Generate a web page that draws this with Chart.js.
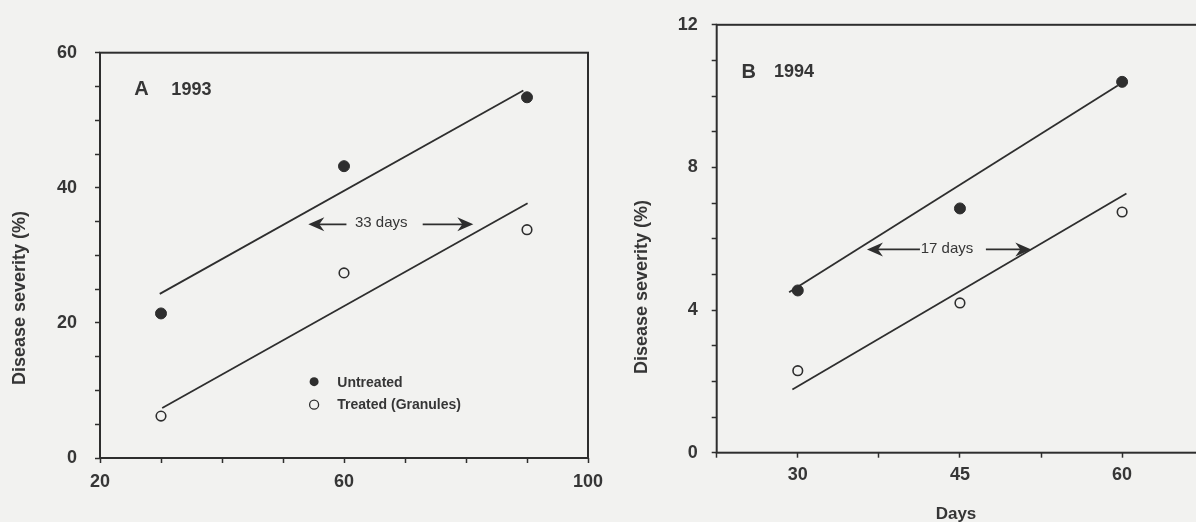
<!DOCTYPE html>
<html>
<head>
<meta charset="utf-8">
<script src="https://cdn.jsdelivr.net/npm/chart.js@4.4.1/dist/chart.umd.min.js"></script>
<style>
  html, body { margin: 0; padding: 0; width: 1196px; height: 522px; overflow: hidden; background: #f2f2f0; }
  .panel { position: absolute; top: 0; width: 620px; height: 522px; }
  #wrapA { left: 0; }
  #wrapB { left: 600px; }
</style>
</head>
<body>
<div class="panel" id="wrapA"><canvas id="chartA"></canvas></div>
<div class="panel" id="wrapB"><canvas id="chartB"></canvas></div>
<script>
// Panel A - 1993
const daysA = [30, 60, 90];
const untreatedA = [21.4, 43.2, 53.4];
const treatedA = [6.2, 27.4, 33.8];
const fitUntreatedA = [[29.8, 24.3], [89.4, 54.4]];
const fitTreatedA = [[30.2, 7.4], [90.1, 37.7]];
const xTicksA = [20, 60, 100];
const yTicksA = [0, 20, 40, 60];

// Panel B - 1994
const daysB = [30, 45, 60];
const untreatedB = [4.55, 6.85, 10.4];
const treatedB = [2.3, 4.2, 6.75];
const fitUntreatedB = [[29.2, 4.5], [59.6, 10.3]];
const fitTreatedB = [[29.5, 1.77], [60.4, 7.27]];
const xTicksB = [30, 45, 60];
const yTicksB = [0, 4, 8, 12];

// delay arrows (data coords): y, left tip, left line end, text x, right line start, right tip
const arrowA = { y: 34.6, tipL: 54.15, endL: 60.4, textX: 66.1, startR: 72.9, tipR: 81.2, text: '33 days' };
const arrowB = { y: 5.7, tipL: 36.4, endL: 41.3, textX: 43.8, startR: 47.4, tipR: 51.6, text: '17 days' };

const INK = '#2e2e2e';
const TEXT = '#363636';
const BG = '#f2f2f0';
const FONT = '"Liberation Sans", Arial, sans-serif';

function pts(xs, ys) {
  return xs.map((x, i) => ({ x: x, y: ys[i] }));
}
function seg(s) {
  return s.map(p => ({ x: p[0], y: p[1] }));
}

function datasets(days, untreated, treated, fitU, fitT) {
  return [
    {
      label: 'Untreated',
      data: pts(days, untreated),
      pointRadius: 5.5,
      pointBackgroundColor: INK,
      pointBorderColor: INK,
      pointBorderWidth: 1
    },
    {
      label: 'Treated (Granules)',
      data: pts(days, treated),
      pointRadius: 4.8,
      pointBackgroundColor: BG,
      pointBorderColor: INK,
      pointBorderWidth: 1.6
    },
    {
      label: 'fit untreated',
      data: seg(fitU),
      showLine: true,
      pointRadius: 0,
      borderColor: INK,
      borderWidth: 1.8
    },
    {
      label: 'fit treated',
      data: seg(fitT),
      showLine: true,
      pointRadius: 0,
      borderColor: INK,
      borderWidth: 1.8
    }
  ];
}

function drawArrowHead(ctx, tipX, y, dir) {
  // dir = -1 points left, 1 points right
  ctx.beginPath();
  ctx.moveTo(tipX, y);
  ctx.lineTo(tipX - dir * 16, y - 7);
  ctx.lineTo(tipX - dir * 11, y);
  ctx.lineTo(tipX - dir * 16, y + 7);
  ctx.closePath();
  ctx.fill();
}

// draws frame, arrow, panel label, legend and axis titles
function decorPlugin(cfg) {
  return {
    id: 'decor',
    afterDraw(chart) {
      const ctx = chart.ctx;
      const a = chart.chartArea;
      const xs = chart.scales.x, ys = chart.scales.y;
      ctx.save();
      ctx.strokeStyle = INK;
      ctx.fillStyle = INK;
      ctx.lineWidth = 2;
      ctx.strokeRect(a.left, a.top, a.right - a.left, a.bottom - a.top);

      // arrow
      const ar = cfg.arrow;
      const ay = ys.getPixelForValue(ar.y);
      ctx.lineWidth = 1.7;
      ctx.beginPath();
      ctx.moveTo(xs.getPixelForValue(ar.tipL) + 10, ay);
      ctx.lineTo(xs.getPixelForValue(ar.endL), ay);
      ctx.moveTo(xs.getPixelForValue(ar.startR), ay);
      ctx.lineTo(xs.getPixelForValue(ar.tipR) - 10, ay);
      ctx.stroke();
      drawArrowHead(ctx, xs.getPixelForValue(ar.tipL), ay, -1);
      drawArrowHead(ctx, xs.getPixelForValue(ar.tipR), ay, 1);
      ctx.fillStyle = TEXT;
      ctx.font = '15px ' + FONT;
      ctx.textAlign = 'center';
      ctx.textBaseline = 'middle';
      ctx.fillText(ar.text, xs.getPixelForValue(ar.textX), ay - 1);

      // panel label
      const pl = cfg.panel;
      ctx.textAlign = 'left';
      ctx.font = 'bold 20px ' + FONT;
      ctx.fillText(pl.letter, xs.getPixelForValue(pl.x), ys.getPixelForValue(pl.y));
      ctx.font = 'bold 18px ' + FONT;
      ctx.fillText(pl.year, xs.getPixelForValue(pl.yearX), ys.getPixelForValue(pl.y));

      // legend
      if (cfg.legend) {
        const lg = cfg.legend;
        const mx = xs.getPixelForValue(lg.x);
        ctx.font = 'bold 14px ' + FONT;
        lg.items.forEach(it => {
          const py = ys.getPixelForValue(it.y);
          ctx.beginPath();
          ctx.arc(mx, py, 4.5, 0, Math.PI * 2);
          if (it.filled) {
            ctx.fillStyle = INK;
            ctx.fill();
          } else {
            ctx.lineWidth = 1.3;
            ctx.strokeStyle = INK;
            ctx.stroke();
          }
          ctx.fillStyle = TEXT;
          ctx.fillText(it.text, xs.getPixelForValue(lg.textX), py + 1);
        });
      }

      // axis titles
      ctx.fillStyle = TEXT;
      ctx.font = 'bold 18px ' + FONT;
      ctx.textAlign = 'center';
      ctx.save();
      ctx.translate(cfg.yTitle.x, cfg.yTitle.y);
      ctx.rotate(-Math.PI / 2);
      ctx.fillText('Disease severity (%)', 0, 0);
      ctx.restore();
      if (cfg.xTitle) {
        ctx.font = 'bold 17px ' + FONT;
        ctx.fillText(cfg.xTitle.text, cfg.xTitle.x, cfg.xTitle.y);
      }
      ctx.restore();
    }
  };
}

function scaleOpts(min, max, step, labels, fitSize, horizontal, pad) {
  return {
    type: 'linear',
    min: min,
    max: max,
    border: { display: false },
    grid: {
      drawOnChartArea: false,
      drawTicks: true,
      tickLength: 5,
      tickWidth: 1.5,
      tickColor: INK
    },
    ticks: {
      stepSize: step,
      autoSkip: false,
      maxRotation: 0,
      padding: pad,
      color: TEXT,
      font: { family: FONT, size: 18, weight: 'bold' },
      callback: v => labels.some(l => Math.abs(l - v) < 1e-6) ? String(v) : ''
    },
    afterFit: s => {
      if (horizontal) s.height = fitSize; else s.width = fitSize;
    }
  };
}

function makeChart(id, ds, xs, ys, padding, plugin) {
  return new Chart(document.getElementById(id), {
    type: 'scatter',
    data: { datasets: ds },
    options: {
      responsive: true,
      maintainAspectRatio: false,
      animation: false,
      layout: { padding: padding },
      plugins: { legend: { display: false }, tooltip: { enabled: false } },
      scales: { x: xs, y: ys }
    },
    plugins: [plugin]
  });
}

makeChart('chartA',
  datasets(daysA, untreatedA, treatedA, fitUntreatedA, fitTreatedA),
  scaleOpts(20, 100, 10, xTicksA, 64, true, 8),
  scaleOpts(0, 60, 5, yTicksA, 100, false, 18),
  { left: 0, right: 32, top: 52.7, bottom: 0 },
  decorPlugin({
    arrow: arrowA,
    panel: { letter: 'A', year: '1993', x: 25.6, yearX: 31.7, y: 54.5 },
    legend: {
      x: 55.1, textX: 58.9,
      items: [
        { text: 'Untreated', y: 11.3, filled: true },
        { text: 'Treated (Granules)', y: 7.9, filled: false }
      ]
    },
    yTitle: { x: 20, y: 298 }
  })
);

makeChart('chartB',
  datasets(daysB, untreatedB, treatedB, fitUntreatedB, fitTreatedB),
  scaleOpts(22.5, 67.5, 7.5, xTicksB, 69.3, true, 6.5),
  scaleOpts(0, 12, 1, yTicksB, 116.7, false, 14),
  { left: 0, right: 16.8, top: 17, bottom: 0 },
  decorPlugin({
    arrow: arrowB,
    panel: { letter: 'B', year: '1994', x: 24.8, yearX: 27.8, y: 10.67 },
    yTitle: { x: 42, y: 287 },
    xTitle: { text: 'Days', x: 356, y: 514 }
  })
);
</script>
</body>
</html>
